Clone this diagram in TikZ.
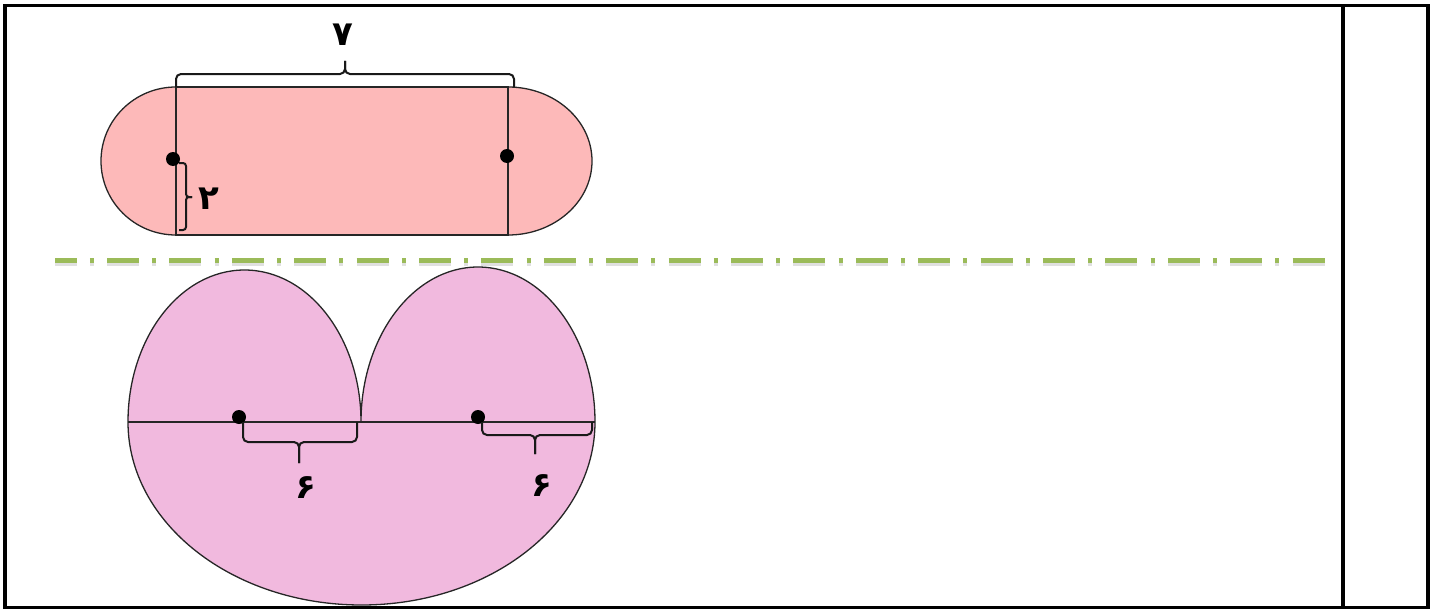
\documentclass[tikz,border=0pt]{standalone}
\usepackage{fontspec}
\TeXXeTstate=1
\newfontfamily\arabicfont[Script=Arabic]{DejaVu Sans}
\definecolor{capsule}{RGB}{253,185,185}
\definecolor{heart}{RGB}{241,185,222}
\definecolor{axisgreen}{RGB}{155,187,89}
\tikzset{
  outline/.style={draw=black!85,line width=1.3pt},
  bracket/.style={draw=black!90,line width=2pt,rounded corners=5pt},
  digit/.style={font=\arabicfont\bfseries\fontsize{34}{36}\selectfont,inner sep=0pt},
  axisline/.style={line width=5pt,dash pattern=on 32pt off 13.2pt on 4pt off 13.2pt,dash phase=10.4pt}
}

\begin{document}
\begin{tikzpicture}[x=1pt,y=-1pt]
            \useasboundingbox (0,0) rectangle (1442,610);
            % frame
            \draw[line width=3.5pt] (5,5.5) rectangle (1428,607.5);
            \draw[line width=3.5pt] (1343,5.5)--(1343,607.5);

            % capsule
            \draw[outline,fill=capsule] (176,161) ellipse[x radius=75,y radius=74];
            \draw[outline,fill=capsule] (508,161) ellipse[x radius=84,y radius=74];
            \draw[outline,fill=capsule] (176,87) rectangle (508,235);
            \coordinate (c1) at (173,159);
            \coordinate (c2) at (507,156);
            \fill (c1) circle (7);
            \fill (c2) circle (7);
            \draw[bracket] (176,87)--(176,74)--(345,74)--(345,61);
            \draw[bracket] (514,87)--(514,74)--(345,74)--(345,61);
            \node[digit] (l7) at (343,35){\beginR ۷\endR};
            \draw[bracket,rounded corners=3pt] (179,163)--(186,163)--(186,197)--(192,197);
            \draw[bracket,rounded corners=3pt] (179,230)--(186,230)--(186,197)--(192,197);
            \node[digit] (l2) at (209,199){\beginR ۲\endR};

            % axis
            \draw[axisline,black!12] (55,263)--(1325,263);
            \draw[axisline,axisgreen] (55,260)--(1325,260);

            % heart
            \draw[outline,fill=heart] (128,422) arc[start angle=180,end angle=0,x radius=233.5,y radius=183]
                arc[start angle=0,end angle=-180,x radius=117,y radius=155]
                arc[start angle=0,end angle=-180,x radius=116.5,y radius=152]--cycle;
            \draw[outline] (128,422)--(595,422);
            \coordinate (h1) at (239,417);
            \coordinate (h2) at (478,417);
            \fill (h1) circle (7);
            \fill (h2) circle (7);
            \draw[bracket] (243,422)--(243,442)--(299,442)--(299,463);
            \draw[bracket] (357,422)--(357,442)--(299,442)--(299,463);
            \node[digit] (l6a) at (306,488){\beginR ۶\endR};
            \draw[bracket] (482,422)--(482,435)--(535,435)--(535,454);
            \draw[bracket] (592,422)--(592,435)--(535,435)--(535,454);
            \node[digit] (l6b) at (542,486){\beginR ۶\endR};
        \end{tikzpicture}
\end{document}
